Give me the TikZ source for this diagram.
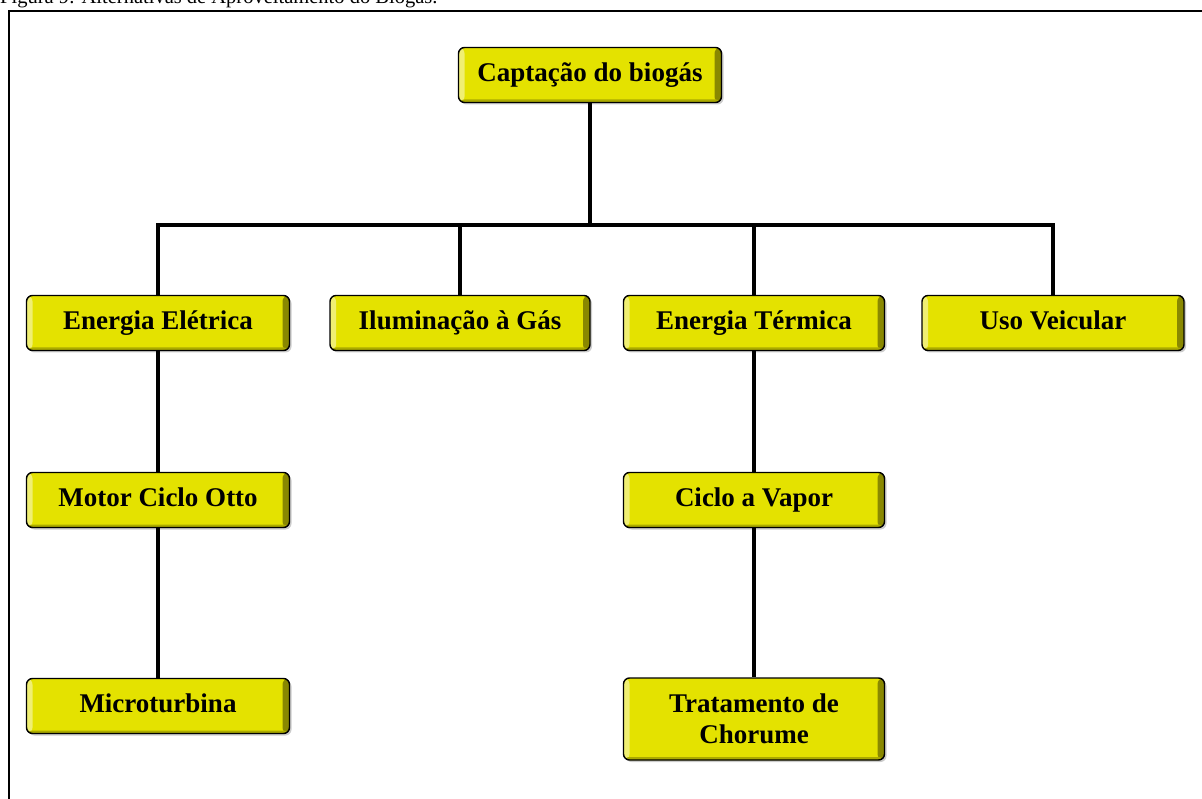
\documentclass[tikz,border=0pt]{standalone}
\usepackage{fontspec}
\setmainfont{Liberation Serif}
\usetikzlibrary{shapes.geometric, arrows, shadows, positioning}
\definecolor{boxyellow}{RGB}{228,226,0}
\tikzstyle{caixa} = [rectangle, rounded corners=6pt, minimum width=263pt, minimum height=55pt, text centered, align=center, draw=black, line width=1.4pt, fill=boxyellow, font=\fontsize{27}{31}\selectfont\bfseries, text height=18pt, text depth=5pt, drop shadow={shadow xshift=2pt, shadow yshift=-2pt, fill=black!40},
  path picture={
    \fill[boxyellow!55!white] (path picture bounding box.north west) rectangle ([xshift=6pt]path picture bounding box.south west);
    \fill[boxyellow!60!black] ([xshift=-7pt]path picture bounding box.north east) rectangle (path picture bounding box.south east);
    \fill[boxyellow!75!black] ([yshift=3pt]path picture bounding box.south west) rectangle (path picture bounding box.south east);}]
\tikzstyle{link} = [line width=4pt, -]

\begin{document}
\begin{tikzpicture}[x=1pt, y=-1pt]
    \useasboundingbox (0, 0) rectangle (1202, 799);
    \node (titulo) at (0, 4) [anchor=base west, inner sep=0pt, font=\fontsize{20.5}{22}\selectfont] {Figura 9: Alternativas de Aproveitamento do Biogás.};
    \draw [line width=2pt] (9, 11) rectangle (1220, 820);
    \coordinate (barra) at (0, 225);
    % nivel 1
    \node (captacao) at (590, 75) [caixa] {Captação do biogás};
    % nivel 2
    \node (eletrica) at (158, 323) [caixa] {Energia Elétrica};
    \node (iluminacao) at (460, 323) [caixa, minimum width=260pt] {Iluminação à Gás};
    \node (termica) at (754, 323) [caixa, minimum width=261pt] {Energia Térmica};
    \node (veicular) at (1053, 323) [caixa, minimum width=262pt] {Uso Veicular};
    % nivel 3 e 4
    \node (otto) at (158, 500) [caixa] {Motor Ciclo Otto};
    \node (micro) at (158, 706) [caixa] {Microturbina};
    \node (vapor) at (754, 500) [caixa, minimum width=261pt] {Ciclo a Vapor};
    \node (chorume) at (754, 719) [caixa, minimum width=261pt, minimum height=82pt, text height=, text depth=] {Tratamento de\\Chorume};
    % ligacoes
    \draw [link] (captacao.south) -- (captacao.south |- barra);
    \draw [link] (eletrica.north) |- (veicular.north |- barra) -- (veicular.north);
    \draw [link] (iluminacao.north) -- (iluminacao.north |- barra);
    \draw [link] (termica.north) -- (termica.north |- barra);
    \draw [link] (eletrica.south) -- (otto.north);
    \draw [link] (otto.south) -- (micro.north);
    \draw [link] (termica.south) -- (vapor.north);
    \draw [link] (vapor.south) -- (chorume.north);
\end{tikzpicture}
\end{document}
